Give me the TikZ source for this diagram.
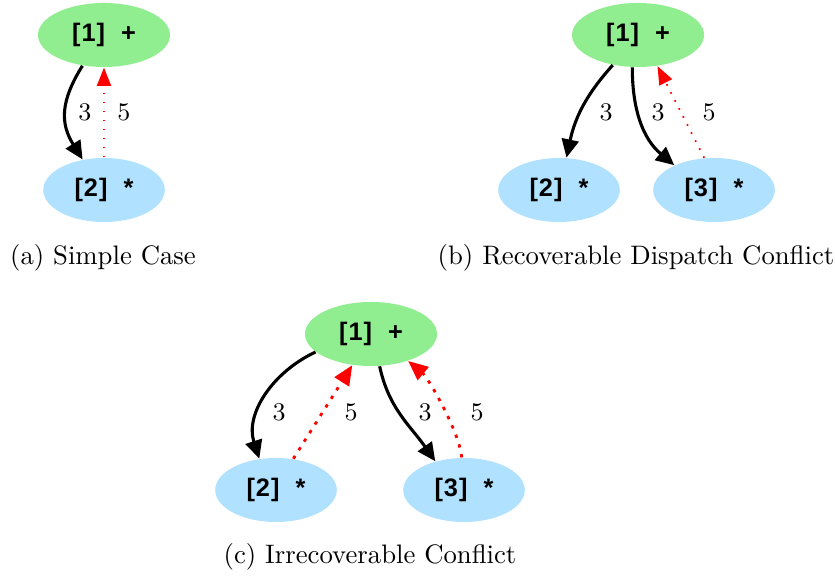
\documentclass[tikz,border=0pt]{standalone}
\usepackage{fontspec}
\newfontfamily\nodefont{Liberation Sans}[LetterSpace=4]
\usetikzlibrary{shapes.geometric,arrows.meta}
\definecolor{opgreen}{HTML}{90EE90}
\definecolor{opblue}{HTML}{B0E2FF}

\begin{document}
\begin{tikzpicture}[x=0.0125cm,y=0.0125cm,
  op/.style={ellipse,fill=#1,inner sep=0pt,minimum height=0.8cm,
    font=\fontsize{9}{10}\selectfont\nodefont\bfseries},
  top/.style={op=opgreen,minimum width=1.65cm},
  leaf/.style={op=opblue,minimum width=1.52cm},
  lbl/.style={font=\fontsize{9}{10}\selectfont},
  subcap/.style={font=\fontsize{9.5}{11}\selectfont},
  call/.style={line width=1.1pt,-{Triangle[length=6.5pt,width=6pt]}},
  back/.style={red,line width=0.6pt,dash pattern=on 0.6pt off 2.6pt,
    -{Triangle[length=6.5pt,width=5pt]}},
  backc/.style={back,line width=1pt,dash pattern=on 1.2pt off 2.4pt,
    -{Triangle[length=7pt,width=6pt]}}]
  \useasboundingbox (0,0) rectangle (835,577);

  % (a)
  \node[top] (a1) at (104,542) {[1]\ \ +};
  \node[leaf] (a2) at (104,387) {[2]\ \ *};
  \draw[call] (a1.235) to[out=238,in=122,looseness=1.15] (a2.125);
  \draw[back] (a2.north) -- (a1.south);
  \node[lbl] (a3) at (85,465) {3};
  \node[lbl] (a5) at (124,465) {5};
  \node[subcap] (acap) at (103,319) {(a) Simple Case};

  % (b)
  \node[top] (b1) at (638,542) {[1]\ \ +};
  \node[leaf] (b2) at (559,387) {[2]\ \ *};
  \node[leaf] (b3) at (714,387) {[3]\ \ *};
  \draw[call] (b1.230) to[out=228,in=78] (b2.77);
  \draw[call] (b1.260) to[out=270,in=140] (b3.148);
  \draw[back] (b3.107) -- (b1.302);
  \node[lbl] (b3l) at (606,465) {3};
  \node[lbl] (b4l) at (658,465) {3};
  \node[lbl] (b5l) at (709,465) {5};
  \node[subcap] (bcap) at (636,319) {(b) Recoverable Dispatch Conflict};

  % (c)
  \node[top] (c1) at (371,243) {[1]\ \ +};
  \node[leaf] (c2) at (276,87) {[2]\ \ *};
  \node[leaf] (c3) at (464,87) {[3]\ \ *};
  \draw[call] (c1.198) to[out=205,in=108] (c2.118);
  \draw[backc] (c2.61) -- (c1.239);
  \draw[call] (c1.285) to[out=282,in=125] (c3.135);
  \draw[backc] (c3.94) to[out=95,in=-40,looseness=0.6] (c1.324);
  \node[lbl] (c3l) at (279,165) {3};
  \node[lbl] (c5l) at (351,165) {5};
  \node[lbl] (c4l) at (425,165) {3};
  \node[lbl] (c6l) at (477,165) {5};
  \node[subcap] (ccap) at (370,20) {(c) Irrecoverable Conflict};
\end{tikzpicture}
\end{document}
